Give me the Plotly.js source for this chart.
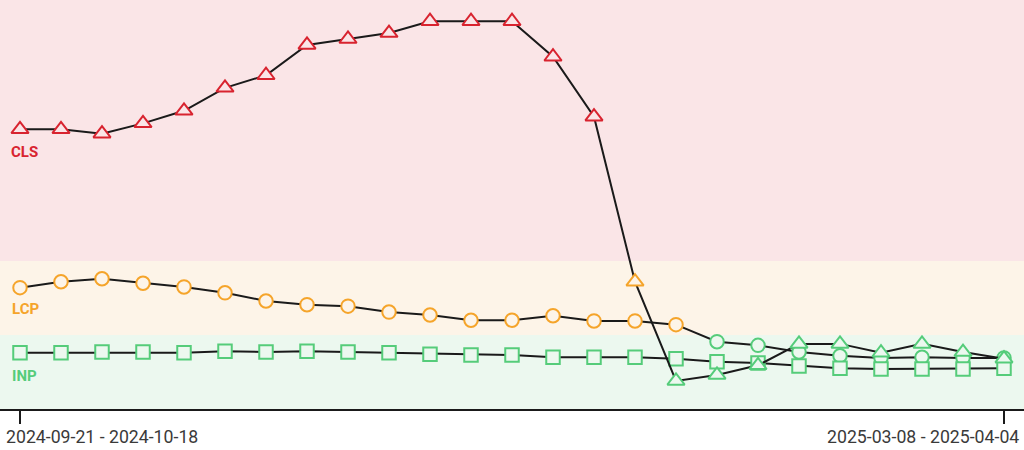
<!DOCTYPE html>
<html>
<head>
<meta charset="utf-8">
<script src="https://cdn.plot.ly/plotly-3.0.1.min.js"></script>
<style>
  html, body { margin: 0; padding: 0; background: #ffffff; }
  #chart { width: 1024px; height: 450px; }
</style>
</head>
<body>
<div id="chart"></div>
<script>
// Periods (28-day windows); only first and last are labelled on the axis
const periods = Array.from({length: 25}, (_, i) => i);
const tickLabels = ["2024-09-21 - 2024-10-18", "2025-03-08 - 2025-04-04"];
const tickPositions = [0, 24];

// Normalised metric scores (0-1 good, 1-2 needs improvement, >2 poor)
const cls = [3.78, 3.78, 3.72, 3.86, 4.03, 4.34, 4.51, 4.92, 5.00, 5.08, 5.24, 5.24, 5.24,
             4.76, 3.95, 1.72, 0.38, 0.46, 0.59, 0.88, 0.88, 0.76, 0.88, 0.77, 0.68];
const lcp = [1.64, 1.72, 1.76, 1.70, 1.65, 1.57, 1.46, 1.41, 1.39, 1.31, 1.27, 1.20, 1.20,
             1.26, 1.19, 1.19, 1.14, 0.91, 0.86, 0.77, 0.72, 0.69, 0.70, 0.69, 0.69];
const inp = [0.76, 0.76, 0.77, 0.77, 0.76, 0.78, 0.77, 0.78, 0.77, 0.76, 0.74, 0.73, 0.73,
             0.70, 0.70, 0.70, 0.68, 0.64, 0.62, 0.58, 0.55, 0.54, 0.54, 0.54, 0.55];

const seriesNames = ["LCP", "INP", "CLS"];
const labelY = {CLS: 3.47, LCP: 1.35, INP: 0.45};

// Styles
const RED = "#d8232f", ORANGE = "#f5a42a", GREEN = "#55cc7a";
const BG_RED = "#fae5e7", BG_ORANGE = "#fdf4e8", BG_GREEN = "#ecf8ef";
const zoneStroke = v => v > 2 ? RED : (v > 1 ? ORANGE : GREEN);
const zoneFill = v => v > 2 ? BG_RED : (v > 1 ? BG_ORANGE : BG_GREEN);

function trace(name, ys, symbol, size) {
  return {
    type: "scatter", mode: "lines+markers", name: name,
    x: periods, y: ys,
    line: {color: "#1a1a1a", width: 2},
    marker: {
      symbol: symbol, size: size,
      color: ys.map(zoneFill),
      line: {color: ys.map(zoneStroke), width: 2}
    },
    hoverinfo: "skip", showlegend: false, cliponaxis: false
  };
}

const data = [
  trace(seriesNames[0], lcp, "circle", 13.5),
  trace(seriesNames[1], inp, "square", 13.5),
  trace(seriesNames[2], cls, "triangle-up", 15)
];

const yTop = 409 / 74;

const layout = {
  width: 1024, height: 450,
  margin: {l: 0, r: 0, t: 0, b: 41},
  paper_bgcolor: "#ffffff", plot_bgcolor: "#ffffff",
  font: {family: "Roboto, 'Noto Sans', sans-serif", color: "#3a3a3a"},
  xaxis: {
    range: [-20/41, 1004/41], showgrid: false, zeroline: false,
    showline: true, linecolor: "#1a1a1a", linewidth: 2,
    tickvals: tickPositions, ticks: "outside", ticklen: 13, tickwidth: 2, tickcolor: "#1a1a1a",
    showticklabels: false, fixedrange: true
  },
  yaxis: {
    range: [0, yTop], showgrid: false, zeroline: false, showline: false,
    showticklabels: false, ticks: "", fixedrange: true
  },
  shapes: [
    {type: "rect", xref: "paper", yref: "y", x0: 0, x1: 1, y0: 0, y1: 1, fillcolor: BG_GREEN, line: {width: 0}, layer: "below"},
    {type: "rect", xref: "paper", yref: "y", x0: 0, x1: 1, y0: 1, y1: 2, fillcolor: BG_ORANGE, line: {width: 0}, layer: "below"},
    {type: "rect", xref: "paper", yref: "y", x0: 0, x1: 1, y0: 2, y1: yTop, fillcolor: BG_RED, line: {width: 0}, layer: "below"}
  ],
  annotations: [
    {xref: "paper", yref: "y", x: 9/1024, y: labelY.CLS, xanchor: "left", yanchor: "middle", showarrow: false,
     text: seriesNames[2], font: {size: 15, color: RED, weight: 700}},
    {xref: "paper", yref: "y", x: 10/1024, y: labelY.LCP, xanchor: "left", yanchor: "middle", showarrow: false,
     text: seriesNames[0], font: {size: 15, color: ORANGE, weight: 700}},
    {xref: "paper", yref: "y", x: 10/1024, y: labelY.INP, xanchor: "left", yanchor: "middle", showarrow: false,
     text: seriesNames[1], font: {size: 15, color: GREEN, weight: 700}},
    {xref: "x", yref: "paper", x: tickPositions[0], y: 0, xanchor: "left", yanchor: "middle", yshift: -28, xshift: -16,
     showarrow: false, text: tickLabels[0], font: {size: 17.7, color: "#3a3a3a"}},
    {xref: "x", yref: "paper", x: tickPositions[1], y: 0, xanchor: "right", yanchor: "middle", yshift: -28, xshift: 17,
     showarrow: false, text: tickLabels[1], font: {size: 17.7, color: "#3a3a3a"}}
  ]
};

Plotly.newPlot("chart", data, layout, {staticPlot: true, displayModeBar: false});
</script>
</body>
</html>
